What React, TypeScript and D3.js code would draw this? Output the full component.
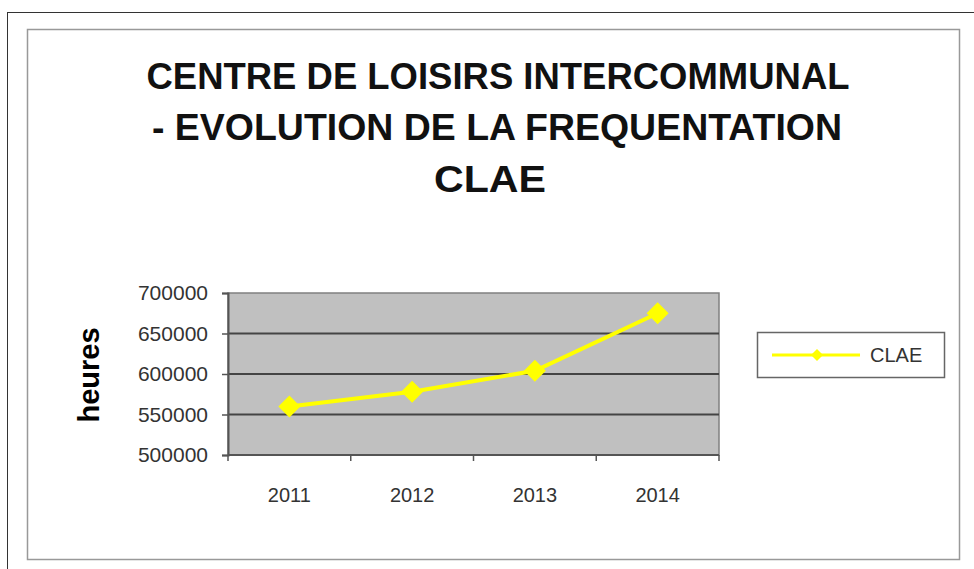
import React, { useEffect, useRef } from 'react';
import * as d3 from 'd3';

const years = ['2011', '2012', '2013', '2014'];
const clae = [560000, 578000, 604000, 675000];
const yTicks = [500000, 550000, 600000, 650000, 700000];
const titleLines = ['CENTRE DE LOISIRS INTERCOMMUNAL', '- EVOLUTION DE LA FREQUENTATION', 'CLAE'];

const App: React.FC = () => {
  const ref = useRef<SVGSVGElement | null>(null);

  useEffect(() => {
    if (!ref.current) return;
    const svg = d3.select(ref.current);
    svg.selectAll('*').remove();

    const font = '"Liberation Sans", Arial, sans-serif';
    const plot = { left: 228, right: 719, top: 293, bottom: 455 };

    // outer frame (top + left only visible)
    svg.append('path').attr('d', 'M7,12.5H974M7.5,12V569').attr('stroke', '#333').attr('fill', 'none');

    // chart area box
    svg.append('rect')
      .attr('x', 27.5).attr('y', 29.5).attr('width', 932).attr('height', 530)
      .attr('fill', '#fff').attr('stroke', '#999').attr('stroke-width', 1.5);

    // title - the original is a bit condensed, so fit each line to its width
    const titleY = [89, 140, 192];
    const titleW = [703, 690, 112];
    const titleX = [498, 497, 490];
    svg.append('g').selectAll('text').data(titleLines).enter().append('text')
      .attr('x', (d, i) => titleX[i]).attr('y', (d, i) => titleY[i])
      .attr('text-anchor', 'middle')
      .attr('textLength', (d, i) => titleW[i]).attr('lengthAdjust', 'spacingAndGlyphs')
      .style('font-family', font).style('font-weight', 'bold').style('font-size', '36px')
      .attr('fill', '#111').text(d => d);

    const x = d3.scaleBand().domain(years).range([plot.left, plot.right]).padding(0);
    const y = d3.scaleLinear().domain([500000, 700000]).range([plot.bottom, plot.top]);

    svg.append('rect')
      .attr('x', plot.left).attr('y', plot.top)
      .attr('width', plot.right - plot.left).attr('height', plot.bottom - plot.top)
      .attr('fill', '#c0c0c0').attr('stroke', '#808080').attr('stroke-width', 1.5);

    // gridlines
    svg.append('g').selectAll('line').data(yTicks.slice(1, -1)).enter().append('line')
      .attr('x1', plot.left).attr('x2', plot.right)
      .attr('y1', d => y(d)).attr('y2', d => y(d))
      .attr('stroke', '#444').attr('stroke-width', 2);

    const yAxis = svg.append('g').attr('transform', `translate(${plot.left},0)`)
      .call(d3.axisLeft(y).tickValues(yTicks).tickSize(6).tickPadding(14).tickFormat(d => String(d)));
    yAxis.select('.domain').attr('stroke', '#555').attr('stroke-width', 2);
    yAxis.selectAll('line').attr('stroke', '#555').attr('stroke-width', 1.5);
    yAxis.selectAll('text')
      .style('font-family', font).style('font-size', '21px').attr('fill', '#333');

    const bandEdges = years.slice(1).map(d => x(d)!);
    const xAxis = svg.append('g');
    xAxis.append('line')
      .attr('x1', plot.left).attr('x2', plot.right).attr('y1', plot.bottom).attr('y2', plot.bottom)
      .attr('stroke', '#555').attr('stroke-width', 2);
    xAxis.selectAll('.tk').data([plot.left, ...bandEdges, plot.right]).enter().append('line')
      .attr('class', 'tk')
      .attr('x1', d => d).attr('x2', d => d).attr('y1', plot.bottom).attr('y2', plot.bottom + 6)
      .attr('stroke', '#555').attr('stroke-width', 1.5);
    xAxis.selectAll('text').data(years).enter().append('text')
      .attr('x', d => x(d)! + x.bandwidth() / 2).attr('y', 502)
      .attr('text-anchor', 'middle')
      .style('font-family', font).style('font-size', '20px').attr('fill', '#333')
      .text(d => d);

    // y axis title
    svg.append('text')
      .attr('transform', 'translate(99,375) rotate(-90)')
      .attr('text-anchor', 'middle')
      .style('font-family', font).style('font-weight', 'bold').style('font-size', '29px')
      .attr('fill', '#000').text('heures');

    // series
    const pts = years.map((d, i) => [x(d)! + x.bandwidth() / 2, y(clae[i])] as [number, number]);
    svg.append('path')
      .attr('d', d3.line()(pts))
      .attr('fill', 'none').attr('stroke', '#ffff00').attr('stroke-width', 4);
    const diamond = (r: number) => `M0,${-r}L${r},0L0,${r}L${-r},0Z`;
    svg.append('g').selectAll('path').data(pts).enter().append('path')
      .attr('transform', d => `translate(${d[0]},${d[1]})`)
      .attr('d', diamond(11)).attr('fill', '#ffff00');

    // legend
    const lg = svg.append('g');
    lg.append('rect').attr('x', 757.5).attr('y', 332.5).attr('width', 187).attr('height', 45)
      .attr('fill', '#fff').attr('stroke', '#666').attr('stroke-width', 1.5);
    lg.append('line').attr('x1', 772).attr('x2', 860).attr('y1', 355).attr('y2', 355)
      .attr('stroke', '#ffff00').attr('stroke-width', 3);
    lg.append('path').attr('transform', 'translate(817,355)').attr('d', diamond(6)).attr('fill', '#ffff00');
    lg.append('text').attr('x', 870).attr('y', 362)
      .style('font-family', font).style('font-size', '20px').attr('fill', '#333').text('CLAE');
  }, []);

  return (
    <div style={{ position: 'absolute', left: 0, top: 0 }}>
      <svg ref={ref} width={974} height={569} style={{ display: 'block' }} />
    </div>
  );
};

export default App;
